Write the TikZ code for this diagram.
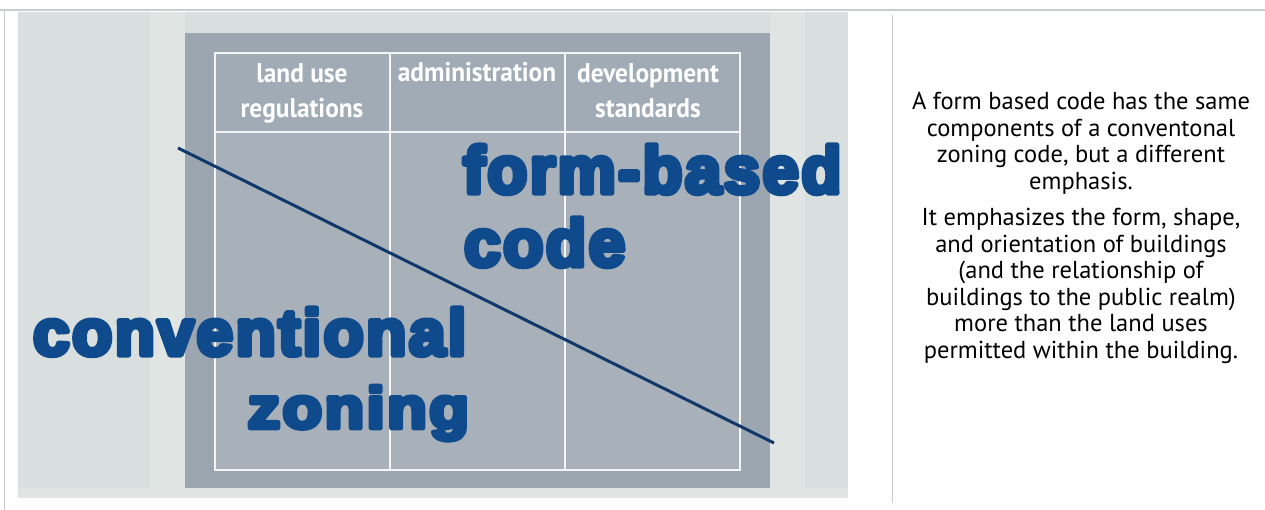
\documentclass[tikz,border=0pt]{standalone}
\usepackage{fontspec}
\usepackage{graphicx}
\setmainfont{PT Sans}
\newfontfamily\hdrfont{PT Sans}[FakeStretch=0.94]
\newfontfamily\heavyfont{Liberation Sans}[LetterSpace=4]

\definecolor{framegray}{HTML}{C9CCCC}
\definecolor{panelgray}{HTML}{D9DFDE}
\definecolor{panellight}{HTML}{E0E4E3}
\definecolor{boardgray}{HTML}{9CA6B0}
\definecolor{cellgray}{HTML}{A8B1BA}
\definecolor{headgray}{HTML}{A1ABB5}
\definecolor{codeblue}{HTML}{0E4A8C}
\definecolor{linenavy}{HTML}{11386A}

% heavy blue lettering: glyphs filled and stroked in their own colour
\newcommand\heavyword[3]{\resizebox{#1}{#2}{%
  \special{pdf:literal direct 2 Tr 0.8 w 1 j 0.055 0.29 0.55 RG}#3%
  \special{pdf:literal direct 0 Tr}}}

\tikzset{
  gridline/.style={draw=white!92!gray, line width=1.1pt},
  headtext/.style={text=white, align=center, inner sep=0pt,
    font=\hdrfont\bfseries\fontsize{27}{35}\selectfont},
  bigtext/.style={text=codeblue, inner sep=0pt, font=\heavyfont\bfseries},
  bodytext/.style={text=black, align=center, inner sep=0pt,
    font=\fontsize{24.5}{26.6}\selectfont},
  divider/.style={line width=3pt, linenavy},
}

\begin{document}
\begin{tikzpicture}[x=1pt, y=-1pt]
\useasboundingbox (0,0) rectangle (1265,510);
\fill[white] (0,0) rectangle (1265,510);

% outer frame lines
\draw[framegray, line width=1.2pt] (0,10) -- (1265,10);
\draw[framegray, line width=1pt] (4,10) -- (4,510);
\draw[framegray, line width=1pt] (892,15) -- (892,503);

% light backdrop panel
\fill[panelgray] (18,12) rectangle (848,498);
\fill[panellight] (150,12) rectangle (185,498);
\fill[panellight] (770,12) rectangle (805,498);
\fill[panellight] (18,488) rectangle (848,498);

% board with the three-column table
\fill[boardgray] (185,33) rectangle (770,488);
\fill[cellgray] (215,53) rectangle (740,470);
\fill[headgray] (215,53) rectangle (740,132);
\draw[gridline] (215,53) rectangle (740,470);
\draw[gridline] (390,53) -- (390,470);
\draw[gridline] (565,53) -- (565,470);
\draw[gridline] (215,132) -- (740,132);

% column headings
\node[headtext] (h1) at (302,93) {land use\\regulations};
\node[headtext, anchor=base] (h2) at (477,82) {administration};
\node[headtext] (h3) at (648,91) {development\\standards};

% diagonal divider
\coordinate (ds) at (178,148);
\coordinate (de) at (774,443);
\draw[divider] (ds) -- (de);

% large labels
\node[bigtext, anchor=base west] (fb) at (463,193) {\heavyword{378pt}{48pt}{form-based}};
\node[bigtext, anchor=base west] (cd) at (464,266) {\heavyword{161pt}{48pt}{code}};
\node[bigtext, anchor=base west] (cv) at (33,355) {\heavyword{433pt}{47pt}{conventional}};
\node[bigtext, anchor=base east] (zn) at (469,428) {\heavyword{221pt}{42pt}{zoning}};

% explanatory text
\node[bodytext, anchor=north] (p1) at (1081,92)
  {A form based code has the same\\components of a conventonal\\zoning code, but a different\\emphasis.};
\node[bodytext, anchor=north] (p2) at (1081,208)
  {It emphasizes the form, shape,\\and orientation of buildings\\(and the relationship of\\buildings to the public realm)\\more than the land uses\\permitted within the building.};
\end{tikzpicture}
\end{document}
